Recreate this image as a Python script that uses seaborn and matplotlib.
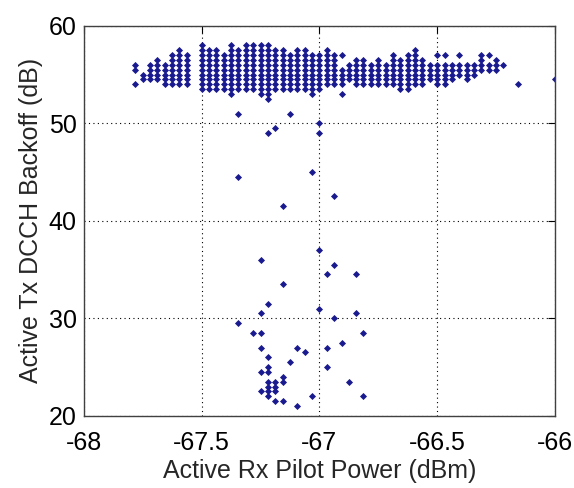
import numpy as np
import pandas as pd
import matplotlib
matplotlib.use("Agg")
import matplotlib.pyplot as plt
import seaborn as sns

# ------------------------
# Data
# ------------------------
# dense band: one column per pilot power value, filled from lo to hi (0.5 dB steps)
band_x = [-67.781, -67.750, -67.719, -67.688, -67.656, -67.625, -67.594, -67.563,
          -67.500, -67.469, -67.438, -67.406, -67.375, -67.344, -67.313, -67.281,
          -67.250, -67.219, -67.188, -67.156, -67.125, -67.094, -67.063, -67.031,
          -67.000, -66.969, -66.938, -66.906, -66.875, -66.844, -66.813, -66.781,
          -66.750, -66.719, -66.688, -66.656, -66.625, -66.594, -66.563, -66.531,
          -66.500, -66.469, -66.438, -66.406, -66.375, -66.344, -66.313, -66.281,
          -66.250, -66.219]
band_lo = [55.5, 54.5, 54.5, 54.5, 54, 54, 54, 54,
           53.5, 53.5, 53.5, 53.5, 53, 53.5, 53.5, 53.5,
           53, 52.5, 53.5, 53.5, 53.5, 53.5, 53.5, 53,
           53.5, 54, 54, 54, 54.5, 54, 54, 54,
           54, 54, 54, 53.5, 53.5, 54, 54, 54.5,
           54, 54, 54.5, 55, 54.5, 55, 55.5, 55.5,
           55.5, 56]
band_hi = [56, 55, 56, 56.5, 56, 57, 57.5, 57,
           57.5, 57.5, 57.5, 57, 58, 57.5, 58, 58,
           58, 58, 57.5, 57.5, 57, 57.5, 57.5, 57,
           57, 57.5, 57, 55.5, 56, 56.5, 56.5, 56,
           56.5, 56, 57, 56.5, 57, 57.5, 56.5, 56,
           56, 56, 56, 56, 56, 56, 56.5, 56,
           56.5, 56]

# isolated points
single_x = [-67.781, -67.500, -66.906, -66.906, -66.500, -66.469, -66.406, -66.313,
            -66.281, -66.156, -66.000,
            -67.344, -67.125, -67.000, -67.219, -67.188, -67.000,
            -67.344, -67.031, -66.938, -67.156, -67.000, -67.250, -66.938, -66.969,
            -66.844, -67.156, -67.219, -67.250, -67.000, -66.844, -66.938, -67.344,
            -67.281, -67.250, -66.813, -66.906, -67.250, -67.094, -66.969, -67.063,
            -67.219, -67.125, -66.969, -67.250, -67.219, -67.219, -67.156, -67.156,
            -67.219, -67.188, -67.219, -67.188, -67.250, -67.219, -67.188, -67.219,
            -66.875, -66.813, -67.031, -67.188, -67.156, -67.094]
single_y = [54, 58, 57, 53, 57, 57, 57, 57,
            57, 54, 54.5,
            51, 51, 50, 49, 49.5, 49,
            44.5, 45, 42.5, 41.5, 37, 36, 35.5, 34.5,
            34.5, 33.5, 31.5, 30.5, 31, 30.5, 30, 29.5,
            28.5, 28.5, 28.5, 27.5, 27, 27, 27, 26.5,
            26, 25.5, 25, 24.5, 25, 24.5, 24, 23.5,
            23.5, 23.5, 23, 23, 22.5, 22.5, 22.5, 22,
            23.5, 22, 22, 21.5, 21.5, 21]

xs, ys = [], []
for x, lo, hi in zip(band_x, band_lo, band_hi):
    for y in np.arange(lo, hi + 0.25, 0.5):
        xs.append(x)
        ys.append(y)
xs += single_x
ys += single_y
df = pd.DataFrame({"pilot": xs, "backoff": ys})

# ------------------------
# Plot
# ------------------------
sns.set_style("white")
plt.rcParams["font.family"] = ["Liberation Sans", "DejaVu Sans"]

fig = plt.figure(figsize=(5.74, 4.88), dpi=100)
ax = fig.add_axes([0.146, 0.148, 0.821, 0.799])

sns.scatterplot(data=df, x="pilot", y="backoff", marker="D", s=13,
                color="#1a1a90", linewidth=0, ax=ax)

ax.set_xlim(-68, -66)
ax.set_ylim(20, 60)
ax.set_xticks([-68, -67.5, -67, -66.5, -66])
ax.set_xticklabels(["-68", "-67.5", "-67", "-66.5", "-66"])
ax.set_yticks([20, 30, 40, 50, 60])
ax.grid(True, linestyle=(0, (1, 3)), color="black", linewidth=0.8)
ax.tick_params(direction="in", top=True, right=True, length=5, width=0.8,
               labelsize=18, colors="black")
ax.tick_params(axis="x", pad=11)
ax.tick_params(axis="y", pad=5)
for sp in ax.spines.values():
    sp.set_color("#404040")
    sp.set_linewidth(1.0)

ax.set_xlabel("Active Rx Pilot Power (dBm)", fontsize=18, labelpad=3)
ax.set_ylabel("Active Tx DCCH Backoff (dB)", fontsize=18, labelpad=4)

fig.savefig("out.png", dpi=100)
